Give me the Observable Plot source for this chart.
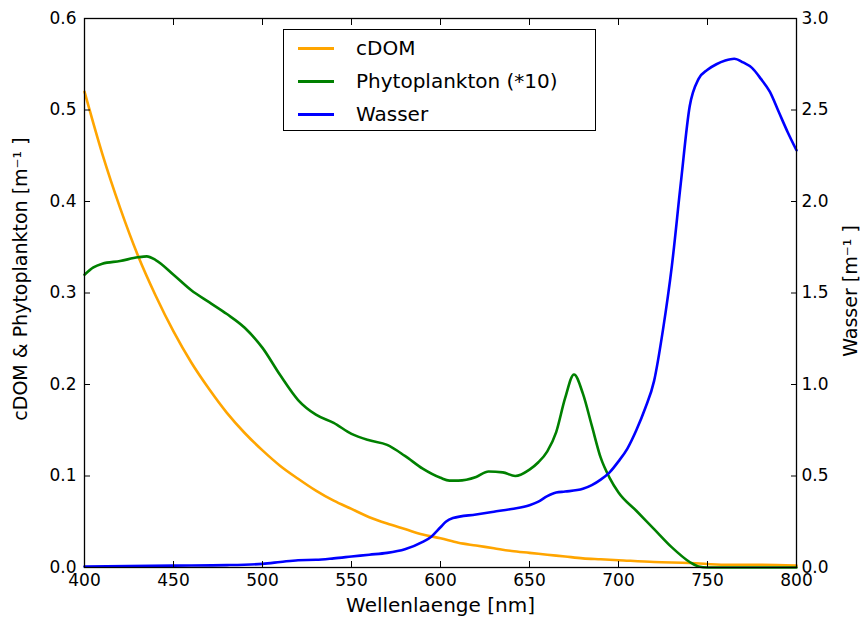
<!DOCTYPE html>
<html>
<head>
<meta charset="utf-8">
<script src="https://cdn.jsdelivr.net/npm/d3@7"></script>
<script src="https://cdn.jsdelivr.net/npm/@observablehq/plot@0.6"></script>
<style>
  html, body { margin: 0; padding: 0; background: #fff; }
  #wrap { position: relative; width: 861px; height: 619px; font-family: "DejaVu Sans", sans-serif; }
  #legend { position: absolute; left: 283px; top: 29px; width: 311px; height: 100px; border: 1.5px solid #000; background: #fff; font-size: 20px; color: #000; }
  .row { position: absolute; left: 0; height: 24px; display: flex; align-items: center; }
  .sw { display: inline-block; width: 36px; height: 3px; margin-left: 14px; margin-right: 22px; }
</style>
</head>
<body>
<div id="wrap"></div>
<script>
// Wavelengths (nm) and absorption values
const cdomWl = [400,410,420,430,440,450,460,470,480,490,500,510,520,530,540,550,560,570,580,590,600,610,620,630,640,650,660,670,680,690,700,720,740,760,780,800];
const cdomVal = [0.52,0.452,0.393,0.341,0.297,0.258,0.224,0.195,0.169,0.147,0.128,0.111,0.097,0.084,0.073,0.064,0.055,0.048,0.042,0.036,0.032,0.027,0.024,0.021,0.018,0.016,0.014,0.012,0.010,0.009,0.008,0.006,0.005,0.003,0.003,0.002];

const phytoWl = [400,405,410,420,430,435,440,450,460,470,480,490,500,510,520,530,540,550,560,570,580,590,600,605,610,620,627,635,642,650,655,660,665,670,675,680,685,690,695,700,710,720,730,740,745,750,800];
const phytoVal = [0.32,0.328,0.332,0.335,0.339,0.34,0.336,0.32,0.303,0.29,0.277,0.262,0.24,0.21,0.183,0.167,0.158,0.146,0.139,0.134,0.122,0.108,0.098,0.095,0.095,0.099,0.105,0.104,0.100,0.107,0.115,0.127,0.148,0.185,0.211,0.19,0.155,0.12,0.098,0.082,0.062,0.042,0.022,0.006,0.001,0.0,0.0];

const wasserWl = [400,450,480,500,510,520,530,540,550,560,570,580,590,595,600,603,607,620,630,640,650,655,660,665,670,680,685,690,695,700,705,710,715,720,725,730,735,740,745,750,755,760,765,770,775,780,785,790,795,800];
const wasserVal = [0.005,0.01,0.013,0.02,0.03,0.04,0.042,0.05,0.06,0.07,0.08,0.1,0.14,0.17,0.22,0.25,0.27,0.29,0.305,0.32,0.34,0.36,0.39,0.41,0.415,0.43,0.45,0.48,0.52,0.58,0.65,0.75,0.87,1.02,1.3,1.65,2.1,2.52,2.67,2.72,2.75,2.77,2.78,2.76,2.73,2.67,2.6,2.49,2.38,2.28];

const leftTicks = [0,0.1,0.2,0.3,0.4,0.5,0.6];
const xTicks = [400,450,500,550,600,650,700,750,800];

const seriesNames = ["cDOM", "Phytoplankton (*10)", "Wasser"];
const seriesColors = ["#FFA500", "#008000", "#0000FF"];
const xLabel = "Wellenlaenge [nm]";
const yLabelLeft = "cDOM & Phytoplankton [m⁻¹ ]";
const yLabelRight = "Wasser [m⁻¹ ]";

const cdom = cdomWl.map((w,i) => ({w, v: cdomVal[i]}));
const phyto = phytoWl.map((w,i) => ({w, v: phytoVal[i]}));
const wasser = wasserWl.map((w,i) => ({w, v: wasserVal[i]}));

const plot = Plot.plot({
  width: 861,
  height: 619,
  marginLeft: 84,
  marginRight: 65,
  marginTop: 18,
  marginBottom: 52,
  style: {fontFamily: "DejaVu Sans, sans-serif", fontSize: "16px", color: "#000", background: "#fff"},
  x: {domain: [400, 800]},
  y: {domain: [0, 0.6]},
  marks: [
    Plot.line(cdom, {x: "w", y: "v", stroke: seriesColors[0], strokeWidth: 2.6, curve: "monotone-x"}),
    Plot.line(phyto, {x: "w", y: "v", stroke: seriesColors[1], strokeWidth: 2.6, curve: "monotone-x"}),
    Plot.line(wasser, {x: "w", y: d => d.v / 5, stroke: seriesColors[2], strokeWidth: 2.6, curve: "monotone-x"}),
    Plot.frame({stroke: "#000", strokeWidth: 1.3}),
    // tick labels
    Plot.axisX(xTicks, {anchor: "bottom", tickSize: 0, tickPadding: 6, fontSize: 17, label: null}),
    Plot.axisY(leftTicks, {anchor: "left", tickSize: 0, tickPadding: 8, fontSize: 17, tickFormat: d => d.toFixed(1), label: null}),
    Plot.axisY(leftTicks, {anchor: "right", tickSize: 0, tickPadding: 5, fontSize: 17, tickFormat: d => (d * 5).toFixed(1), label: null}),
    // inward ticks
    Plot.axisX(xTicks, {anchor: "bottom", tickSize: -6, tickFormat: () => "", label: null}),
    Plot.axisX(xTicks, {anchor: "top", tickSize: -6, tickFormat: () => "", label: null}),
    Plot.axisY(leftTicks, {anchor: "left", tickSize: -6, tickFormat: () => "", label: null}),
    Plot.axisY(leftTicks, {anchor: "right", tickSize: -6, tickFormat: () => "", label: null}),
    // axis titles
    Plot.text([xLabel], {frameAnchor: "bottom", text: d => d, dy: 38, lineAnchor: "middle", textAnchor: "middle", fontSize: 20, fill: "#000"}),
    Plot.text([yLabelLeft], {frameAnchor: "left", text: d => d, dx: -64, dy: -14, rotate: -90, textAnchor: "middle", lineAnchor: "middle", fontSize: 19, fill: "#000"}),
    Plot.text([yLabelRight], {frameAnchor: "right", text: d => d, dx: 54, dy: -2, rotate: -90, textAnchor: "middle", lineAnchor: "middle", fontSize: 19, fill: "#000"})
  ]
});

const wrap = document.getElementById("wrap");
wrap.appendChild(plot);

const legend = document.createElement("div");
legend.id = "legend";
seriesNames.forEach((name, i) => {
  const row = document.createElement("div");
  row.className = "row";
  row.style.top = (6 + i * 33) + "px";
  const sw = document.createElement("span");
  sw.className = "sw";
  sw.style.background = seriesColors[i];
  const t = document.createElement("span");
  t.textContent = name;
  row.appendChild(sw);
  row.appendChild(t);
  legend.appendChild(row);
});
wrap.appendChild(legend);
</script>
</body>
</html>
